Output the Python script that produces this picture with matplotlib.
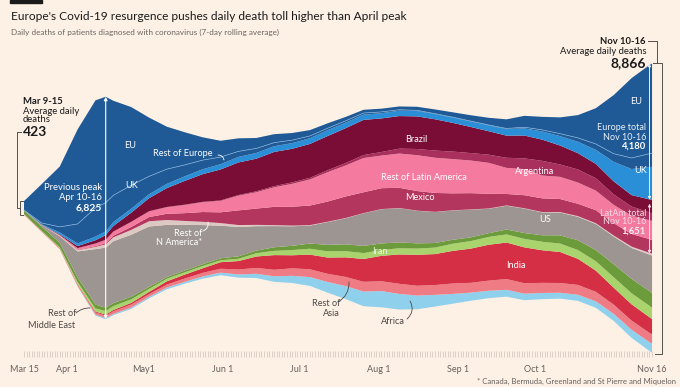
"""
Europe's Covid-19 resurgence - global daily deaths streamgraph (FT style)
"""

import pandas as pd
import matplotlib
matplotlib.use('Agg')
import matplotlib.pyplot as plt
from matplotlib.patches import Rectangle

plt.rcParams['font.family'] = ['Lato', 'DejaVu Sans']

W, H = 680, 387
BG = '#fdf1e6'

# 7-day rolling average of daily deaths, sampled weekly (+ peak week and last day)
dates = pd.date_range('2020-03-15', '2020-11-15', freq='7D').union(
    pd.to_datetime(['2020-04-16', '2020-11-16']))

eu = [274, 1200, 1850, 2900, 3300, 3250, 2900, 2400, 1800, 1300, 1000, 700, 500, 400, 320, 260, 220, 180, 150,
      120, 100, 100, 100, 110, 130, 150, 180, 220, 280, 350, 400, 500, 700, 1100, 1800, 2450, 2720, 2750]
uk = [4, 40, 170, 600, 880, 880, 820, 720, 550, 450, 350, 280, 220, 170, 140, 110, 90, 70, 60,
      55, 50, 40, 30, 20, 12, 10, 10, 12, 20, 35, 50, 75, 120, 180, 250, 340, 410, 420]
rest_europe = [3, 20, 60, 80, 110, 115, 120, 120, 120, 130, 140, 150, 160, 170, 175, 175, 175, 175, 180,
               170, 160, 160, 165, 165, 160, 165, 170, 180, 200, 220, 250, 290, 350, 430, 600, 800, 990, 1010]
brazil = [0, 3, 20, 60, 100, 140, 170, 280, 400, 580, 730, 850, 950, 1000, 1000, 1050, 1030, 1040, 1050,
          1070, 1080, 1030, 1000, 1000, 960, 880, 800, 720, 680, 700, 650, 580, 500, 440, 400, 350, 400, 420]
argentina = [0, 1, 2, 4, 7, 8, 8, 8, 9, 10, 10, 12, 15, 20, 30, 35, 45, 50, 60,
             75, 90, 110, 150, 190, 220, 230, 230, 250, 310, 330, 450, 380, 400, 380, 320, 280, 240, 230]
mexico = [0, 0, 2, 10, 22, 35, 50, 90, 130, 190, 240, 300, 330, 450, 500, 560, 580, 600, 620,
          660, 640, 640, 620, 600, 580, 520, 500, 450, 350, 400, 420, 400, 380, 400, 380, 390, 420, 410]
rest_latam = [0, 5, 20, 50, 75, 100, 120, 150, 170, 200, 250, 300, 350, 450, 500, 600, 700, 800, 900,
              950, 1050, 1000, 1050, 1100, 1080, 1050, 1000, 950, 800, 800, 700, 680, 650, 600, 560, 560, 580, 591]
rest_n_america = [1, 3, 15, 40, 70, 100, 120, 150, 160, 150, 120, 100, 80, 60, 40, 30, 20, 15, 10,
                  8, 6, 5, 5, 5, 5, 5, 6, 8, 10, 10, 12, 15, 20, 25, 30, 40, 55, 60]
us = [8, 40, 200, 800, 1700, 1845, 1900, 1900, 1850, 1600, 1400, 1200, 1000, 900, 750, 650, 600, 550, 700,
      800, 1000, 1050, 1050, 1000, 950, 900, 850, 750, 730, 750, 700, 700, 720, 800, 850, 950, 1120, 1150]
iran = [105, 130, 140, 140, 120, 100, 90, 80, 65, 50, 55, 55, 60, 75, 80, 110, 130, 160, 200,
        210, 220, 200, 180, 160, 140, 120, 115, 115, 150, 180, 200, 250, 300, 340, 400, 440, 450, 450]
rest_mideast = [2, 10, 20, 60, 95, 110, 120, 110, 90, 80, 70, 70, 60, 70, 100, 130, 160, 180, 190,
                190, 180, 180, 190, 190, 200, 220, 230, 240, 250, 260, 260, 260, 270, 290, 320, 340, 350, 350]
india = [0, 1, 3, 8, 28, 35, 40, 50, 70, 100, 120, 140, 200, 260, 350, 450, 400, 450, 500,
         600, 700, 780, 900, 950, 950, 1000, 1050, 1100, 1120, 1100, 1000, 950, 800, 650, 520, 500, 480, 470]
rest_asia = [25, 20, 30, 50, 65, 69, 80, 90, 80, 90, 100, 110, 120, 150, 180, 200, 230, 240, 250,
             280, 300, 300, 310, 300, 300, 320, 300, 310, 330, 320, 310, 300, 300, 290, 280, 280, 285, 285]
africa = [1, 3, 10, 20, 33, 38, 40, 45, 50, 55, 60, 70, 80, 100, 130, 170, 220, 270, 330,
          400, 450, 500, 480, 420, 360, 300, 250, 230, 210, 200, 190, 180, 190, 200, 220, 250, 270, 270]

# top -> bottom of the stream
layers = [
    ('EU', eu, '#1f5a96'),
    ('UK', uk, '#1f5a96'),
    ('Rest of Europe', rest_europe, '#2b8fd8'),
    ('Brazil', brazil, '#7a0d35'),
    ('Argentina', argentina, '#a9305c'),
    ('Rest of Latin America', rest_latam, '#f57aa0'),
    ('Mexico', mexico, '#b3365f'),
    ('Rest of N America', rest_n_america, '#dcc9c3'),
    ('US', us, '#9d9591'),
    ('Iran', iran, '#6b9b3a'),
    ('Rest of Middle East', rest_mideast, '#a9d36c'),
    ('India', india, '#d42f45'),
    ('Rest of Asia', rest_asia, '#ef7b84'),
    ('Africa', africa, '#8fd1ec'),
]

tick_dates = ['2020-03-15', '2020-04-01', '2020-05-01', '2020-06-01', '2020-07-01',
              '2020-08-01', '2020-09-01', '2020-10-01', '2020-11-16']
tick_labels = ['Mar 15', 'Apr 1', 'May1', 'Jun 1', 'Jul 1', 'Aug 1', 'Sep 1', 'Oct 1', 'Nov 16']

for name, vals, _ in layers:
    assert len(vals) == len(dates), name

days = (dates - dates[0]).days.values
total = [sum(v[i] for _, v, _ in layers) for i in range(len(dates))]

# pixel layout: day 0 at x=24, 2.553 px per day; stream centred on y=208, 0.0326 px per death
PX_DAY, X0, YC, PX_DEATH = 2.553, 24, 208, 0.0326

fig = plt.figure(figsize=(W / 100, H / 100), dpi=100, facecolor=BG)
ax = fig.add_axes([0, 0, 1, 1])
ax.set_facecolor(BG)
ax.set_xlim(-X0 / PX_DAY, (W - X0) / PX_DAY)
ax.set_ylim((YC - H) / PX_DEATH, YC / PX_DEATH)
ax.axis('off')


def vy(py):
    return (YC - py) / PX_DEATH


ax.stackplot(days, [v for _, v, _ in reversed(layers)],
             colors=[c for _, _, c in reversed(layers)], baseline='sym', linewidth=0)

# thin divider between EU and UK
top = [t / 2 for t in total]
ax.plot(days, [t - e for t, e in zip(top, eu)], color='#7fb0dd', lw=0.5)

# day ticks and date labels
all_days = range(0, int(days[-1]) + 1)
ax.vlines(all_days, vy(357), vy(351), color='#cfc4ba', lw=0.5)
for d, lab in zip(tick_dates, tick_labels):
    dd = (pd.Timestamp(d) - dates[0]).days
    ax.text(dd, vy(369), lab, ha='center', va='center', fontsize=6.5, color='#66605c')


def put(x, y, s, **kw):
    kw.setdefault('va', 'center')
    fig.text(x / W, 1 - y / H, s, **kw)


def line(pts, color='#555049', lw=0.7):
    xs = [p[0] / W for p in pts]
    ys = [1 - p[1] / H for p in pts]
    fig.add_artist(plt.Line2D(xs, ys, color=color, lw=lw, transform=fig.transFigure))


def leader(x0, y0, x1, y1, color, rad=0.3):
    ax.annotate('', xy=(x1, H - y1), xytext=(x0, H - y0), xycoords='figure pixels',
                textcoords='figure pixels',
                arrowprops=dict(arrowstyle='-', color=color, lw=0.6, shrinkA=0, shrinkB=0,
                                connectionstyle=f'arc3,rad={rad}'))


# title block
fig.add_artist(Rectangle((10 / W, 1 - 3 / H), 32 / W, 3 / H, color='#1a1a1a', transform=fig.transFigure))
put(11, 16, "Europe's Covid-19 resurgence pushes daily death toll higher than April peak",
    fontsize=8.6, color='#1a1a1a')
put(11, 32, 'Daily deaths of patients diagnosed with coronavirus (7-day rolling average)',
    fontsize=5.9, color='#6b6560')

# first-wave peak arrow
first_wave = [i for i in range(len(dates)) if dates[i] < pd.Timestamp('2020-06-01')]
peak_i = max(first_wave, key=lambda i: total[i])
ax.annotate('', xy=(days[peak_i], total[peak_i] / 2), xytext=(days[peak_i], -total[peak_i] / 2),
            arrowprops=dict(arrowstyle='<|-|>', color='white', lw=0.8, mutation_scale=5,
                            shrinkA=0, shrinkB=0))
put(102, 187, 'Previous peak', ha='right', fontsize=6.8, color='white')
put(102, 197, 'Apr 10-16', ha='right', fontsize=6.8, color='white')
put(102, 208, f'{total[peak_i]:,}', ha='right', fontsize=7.5, color='white', fontweight='bold')

# start annotation
put(23, 102, 'Mar 9-15', fontsize=6.8, fontweight='bold', color='#1a1a1a')
put(23, 111, 'Average daily', fontsize=6.8, color='#1a1a1a')
put(23, 120, 'deaths', fontsize=6.8, color='#1a1a1a')
put(23, 132, f'{total[0]:,}', fontsize=10, fontweight='bold', color='#1a1a1a')
s0 = total[0] / 2 * PX_DEATH
line([(21, 132), (17, 132), (17, YC), (20, YC)])
line([(23, YC - s0), (20, YC - s0), (20, YC + s0), (23, YC + s0)])

# end annotation
e0 = total[-1] / 2 * PX_DEATH
put(646, 41, 'Nov 10-16', ha='right', fontsize=6.8, fontweight='bold', color='#1a1a1a')
put(646, 51, 'Average daily deaths', ha='right', fontsize=6.8, color='#1a1a1a')
put(646, 63, f'{total[-1]:,}', ha='right', fontsize=10, fontweight='bold', color='#1a1a1a')
line([(648, 41), (657, 41), (657, YC - e0)])
line([(653, YC - e0), (662, YC - e0), (662, YC + e0 + 1), (655, YC + e0 + 1)])

europe_total = eu[-1] + uk[-1] + rest_europe[-1]
latam_total = brazil[-1] + argentina[-1] + mexico[-1] + rest_latam[-1]
xe = days[-1] - 1
ax.annotate('', xy=(xe, top[-1]), xytext=(xe, top[-1] - europe_total),
            arrowprops=dict(arrowstyle='<|-|>', color='#e4eef8', lw=0.7, mutation_scale=4,
                            shrinkA=0, shrinkB=0))
ax.annotate('', xy=(xe, top[-1] - europe_total - 120), xytext=(xe, top[-1] - europe_total - latam_total),
            arrowprops=dict(arrowstyle='<|-|>', color='#f3dbe4', lw=0.7, mutation_scale=4,
                            shrinkA=0, shrinkB=0))
put(646, 128, 'Europe total', ha='right', fontsize=6.5, color='#e8f0f8')
put(646, 137, 'Nov 10-16', ha='right', fontsize=6.5, color='#e8f0f8')
put(646, 146, f'{europe_total:,}', ha='right', fontsize=6.8, fontweight='bold', color='white')
put(646, 213, 'LatAm total', ha='right', fontsize=6.5, color='#f5dce6')
put(646, 222, 'Nov 10-16', ha='right', fontsize=6.5, color='#f5dce6')
put(646, 231, f'{latam_total:,}', ha='right', fontsize=6.8, fontweight='bold', color='#fbeef3')

# layer labels
wl = dict(fontsize=6.6, color='white', ha='center')
put(130, 146, 'EU', **wl)
put(636, 101, 'EU', **wl)
put(132, 186, 'UK', **wl)
put(641, 170, 'UK', **wl)
put(183, 154, 'Rest of Europe', **wl)
leader(218, 155, 224, 160, 'white', rad=-0.4)
put(416, 140, 'Brazil', **wl)
put(424, 178, 'Rest of Latin America', **wl)
put(420, 198, 'Mexico', **wl)
put(535, 172, 'Argentina', **wl)
put(545, 220, 'US', **wl)
put(380, 251, 'Iran', fontsize=6.6, color='#eef6e2', ha='center')
put(516, 265, 'India', **wl)
put(202, 233, 'Rest of', fontsize=6.6, color='white', ha='right')
put(202, 242, 'N America*', fontsize=6.6, color='white', ha='right')
leader(203, 231, 208, 222, 'white', rad=0.4)

dl = dict(fontsize=6.6, color='#4d4845', ha='center')
put(326, 304, 'Rest of', **dl)
put(331, 314, 'Asia', **dl)
leader(338, 302, 349, 282, '#4d4845', rad=0.3)
put(393, 321, 'Africa', **dl)
leader(407, 319, 410, 301, '#4d4845', rad=0.4)
put(62, 314, 'Rest of', **dl)
put(52, 326, 'Middle East', **dl)
leader(76, 313, 90, 308, '#4d4845', rad=-0.2)

put(676, 381, '* Canada, Bermuda, Greenland and St Pierre and Miquelon', ha='right',
    fontsize=5.6, color='#66605c')

plt.savefig('out.png', dpi=100, facecolor=BG)
plt.close()
